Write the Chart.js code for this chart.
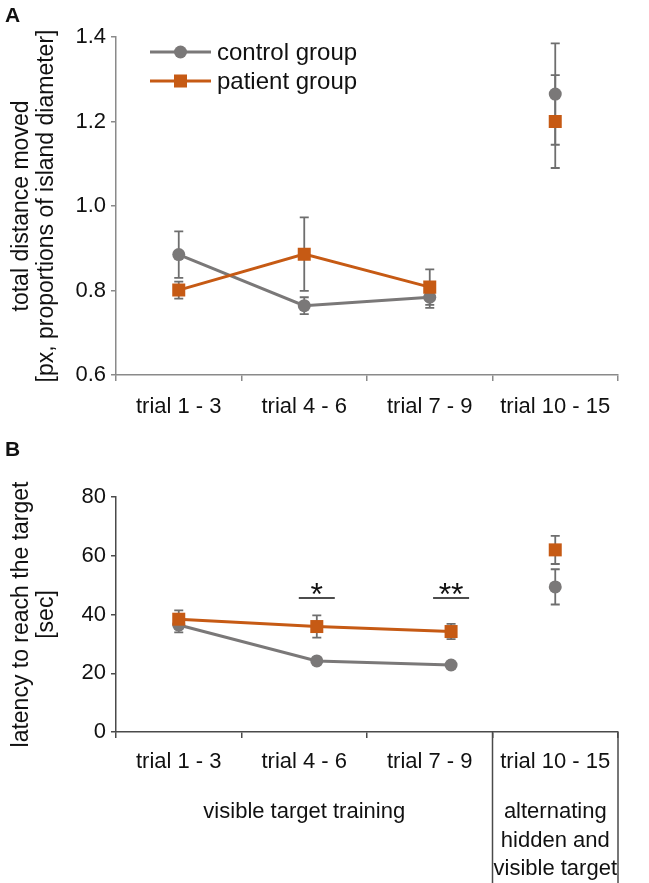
<!DOCTYPE html>
<html><head><meta charset="utf-8">
<script src="https://cdn.jsdelivr.net/npm/chart.js@4.4.1/dist/chart.umd.min.js"></script>
<style>
html,body{margin:0;padding:0;background:#fff;}
#wrap{position:relative;width:649px;height:883px;overflow:hidden;background:#fff;}
canvas{position:absolute;left:0;}
#cA{top:0;}
#cB{top:430px;}
.pl{position:absolute;left:5px;font:bold 21px 'Liberation Sans',Arial,sans-serif;color:#111;line-height:1;}
</style></head><body>
<div id="wrap">
<canvas id="cA" width="649" height="430"></canvas>
<canvas id="cB" width="649" height="453"></canvas>
<div class="pl" style="top:4px">A</div>
<div class="pl" style="top:438px">B</div>
</div>
<script>
// ---------- data ----------
const categories = ['trial 1 - 3', 'trial 4 - 6', 'trial 7 - 9', 'trial 10 - 15'];
const seriesNames = ['control group', 'patient group'];

const distControl    = [0.885, 0.764, 0.784, 1.265];
const distControlErr = [0.055, 0.020, 0.025, 0.120];
const distPatient    = [0.801, 0.886, 0.808, 1.200];
const distPatientErr = [0.020, 0.087, 0.042, 0.110];
const distTicks = [0.6, 0.8, 1.0, 1.2, 1.4];

// panel B: points sit at these positions along the category axis (0 = trial 1 - 3)
const latX          = [0, 1.1, 2.17, 3.0];
const latControl    = [36.4, 24.2, 22.8, 49.4];
const latControlErr = [2.5, 1.0, 1.0, 6.0];
const latPatient    = [38.4, 35.9, 34.2, 62.0];
const latPatientErr = [3.0, 3.8, 2.6, 4.8];
const latTicks = [0, 20, 40, 60, 80];

const sigCategories = ['trial 4 - 6', 'trial 7 - 9'];
const sigMarks = ['*', '**'];
const phaseLabels = ['visible target training', ['alternating', 'hidden and', 'visible target']];
const phaseSpans = [[0, 2], [3, 3]];

// ---------- styles ----------
const FONT = "'Liberation Sans', Arial, Helvetica, sans-serif";
const GRAY = '#7a7878';
const ORANGE = '#c65a14';
const ERR = '#6e6e6e';
const TXT = '#111111';
const TICK_SIZE = 22;

Chart.defaults.font.family = FONT;
Chart.defaults.font.size = TICK_SIZE;
Chart.defaults.color = TXT;

const noLink = (ctx) => ctx.p1DataIndex === 3 ? 'rgba(0,0,0,0)' : undefined;

function makeDatasets(ctrl, ctrlErr, pat, patErr, xs) {
  const pts = (arr) => xs ? arr.map((v, i) => ({ x: xs[i], y: v })) : arr;
  return [
    { label: seriesNames[0], data: pts(ctrl), errors: ctrlErr, order: 1,
      borderColor: GRAY, backgroundColor: GRAY, pointBackgroundColor: GRAY, pointBorderColor: GRAY,
      borderWidth: 3, pointStyle: 'circle', pointRadius: 6.5, pointBorderWidth: 0,
      segment: { borderColor: noLink } },
    { label: seriesNames[1], data: pts(pat), errors: patErr, order: 0,
      borderColor: ORANGE, backgroundColor: ORANGE, pointBackgroundColor: ORANGE, pointBorderColor: ORANGE,
      borderWidth: 3, pointStyle: 'rect', pointRadius: 9.2, pointBorderWidth: 0,
      segment: { borderColor: noLink } }
  ];
}

const errorBars = {
  id: 'errorBars',
  beforeDatasetsDraw(chart, args, o) {
    const ctx = chart.ctx, ys = chart.scales.y;
    ctx.save();
    ctx.strokeStyle = o.color; ctx.lineWidth = o.width;
    chart.data.datasets.forEach((ds, di) => {
      const meta = chart.getDatasetMeta(di);
      ds.data.forEach((d, i) => {
        const v = (typeof d === 'object') ? d.y : d;
        const e = ds.errors[i];
        const px = meta.data[i].x;
        const t = ys.getPixelForValue(v + e), b = ys.getPixelForValue(v - e);
        ctx.beginPath();
        ctx.moveTo(px, t); ctx.lineTo(px, b);
        ctx.moveTo(px - o.cap, t); ctx.lineTo(px + o.cap, t);
        ctx.moveTo(px - o.cap, b); ctx.lineTo(px + o.cap, b);
        ctx.stroke();
      });
    });
    ctx.restore();
  }
};

const lineLegend = {
  id: 'lineLegend',
  afterDraw(chart, args, o) {
    if (!o.show) return;
    const ctx = chart.ctx;
    chart.data.datasets.forEach((ds, i) => {
      const y = o.y + i * o.gap;
      ctx.save();
      ctx.strokeStyle = ds.borderColor; ctx.lineWidth = ds.borderWidth;
      ctx.beginPath(); ctx.moveTo(o.x, y); ctx.lineTo(o.x + o.len, y); ctx.stroke();
      const cx = o.x + o.len / 2;
      ctx.fillStyle = ds.pointBackgroundColor;
      if (ds.pointStyle === 'rect') {
        const s = ds.pointRadius / Math.SQRT2;
        ctx.fillRect(cx - s, y - s, 2 * s, 2 * s);
      } else {
        ctx.beginPath(); ctx.arc(cx, y, ds.pointRadius, 0, Math.PI * 2); ctx.fill();
      }
      ctx.fillStyle = TXT;
      ctx.font = o.fontSize + 'px ' + FONT;
      ctx.textBaseline = 'middle'; ctx.textAlign = 'left';
      ctx.fillText(ds.label, o.x + o.len + o.textGap, y + 1);
      ctx.restore();
    });
  }
};

const sigPlugin = {
  id: 'sigMarks',
  afterDatasetsDraw(chart, args, o) {
    if (!o.show) return;
    const ctx = chart.ctx, ys = chart.scales.y;
    const meta = chart.getDatasetMeta(1);
    ctx.save();
    sigCategories.forEach((c, i) => {
      const px = meta.data[categories.indexOf(c)].x;
      const py = ys.getPixelForValue(o.level);
      ctx.strokeStyle = TXT; ctx.lineWidth = 1.5;
      ctx.beginPath(); ctx.moveTo(px - o.half, py); ctx.lineTo(px + o.half, py); ctx.stroke();
      ctx.fillStyle = TXT; ctx.font = o.fontSize + 'px ' + FONT;
      ctx.textAlign = 'center'; ctx.textBaseline = 'alphabetic';
      ctx.fillText(sigMarks[i], px, py + o.textDy);
    });
    ctx.restore();
  }
};

const phasePlugin = {
  id: 'phases',
  afterDraw(chart, args, o) {
    if (!o.show) return;
    const ctx = chart.ctx, xs = chart.scales.x, area = chart.chartArea;
    const half = (xs.getPixelForValue(1) - xs.getPixelForValue(0)) / 2;
    ctx.save();
    ctx.fillStyle = TXT; ctx.font = o.fontSize + 'px ' + FONT;
    ctx.textAlign = 'center'; ctx.textBaseline = 'middle';
    ctx.strokeStyle = o.lineColor; ctx.lineWidth = 1.5;
    phaseSpans.forEach((sp, i) => {
      const l = xs.getPixelForValue(sp[0]) - half, r = xs.getPixelForValue(sp[1]) + half;
      const cx = (l + r) / 2;
      const lines = Array.isArray(phaseLabels[i]) ? phaseLabels[i] : [phaseLabels[i]];
      lines.forEach((t, k) => ctx.fillText(t, cx, area.bottom + o.offset + k * o.lh));
      if (i > 0) {
        [l, r].forEach(xx => {
          ctx.beginPath(); ctx.moveTo(xx, area.bottom); ctx.lineTo(xx, chart.height); ctx.stroke();
        });
      }
    });
    ctx.restore();
  }
};

function yScale(cfg) {
  return {
    min: cfg.ticks[0], max: cfg.ticks[cfg.ticks.length - 1],
    afterBuildTicks: (s) => { s.ticks = cfg.ticks.map(v => ({ value: v })); },
    grid: { display: true, drawOnChartArea: false, drawTicks: true, tickLength: 5, color: cfg.axisColor, lineWidth: 1.5 },
    border: { display: true, color: cfg.axisColor, width: 1.5 },
    ticks: { padding: 5, color: TXT, font: { size: TICK_SIZE }, callback: cfg.fmt },
    title: { display: true, text: cfg.title, color: TXT, font: { size: 23, lineHeight: 1.1 }, padding: { top: 9, bottom: 0 } },
    afterFit: (s) => { s.width = 116; }
  };
}

function basePlugins(cfg) {
  return {
    legend: { display: false }, tooltip: { enabled: false },
    errorBars: { color: ERR, width: 1.8, cap: 4.5 },
    lineLegend: cfg.legend, sigMarks: cfg.sig, phases: cfg.phases
  };
}

// ---------- panel A ----------
const cfgA = {
  axisColor: '#8a8a8a', ticks: distTicks, fmt: (v) => Number(v).toFixed(1),
  title: ['total distance moved', '[px, proportions of island diameter]'],
  legend: { show: true, x: 150, len: 61, y: 52, gap: 29, textGap: 6, fontSize: 24 },
  sig: { show: false }, phases: { show: false }
};
new Chart(document.getElementById('cA'), {
  type: 'line',
  data: { labels: categories, datasets: makeDatasets(distControl, distControlErr, distPatient, distPatientErr) },
  options: {
    responsive: false, animation: false, devicePixelRatio: 1,
    layout: { padding: { left: 0, right: 31, top: 37, bottom: 0 } },
    plugins: basePlugins(cfgA),
    scales: {
      x: {
        type: 'category', offset: true,
        grid: { display: true, drawOnChartArea: false, drawTicks: true, tickLength: 6, color: cfgA.axisColor, lineWidth: 1.5, offset: true },
        border: { display: true, color: cfgA.axisColor, width: 1.5 },
        ticks: { padding: 13, color: TXT, font: { size: TICK_SIZE }, maxRotation: 0, autoSkip: false },
        afterFit: (s) => { s.height = 55; }
      },
      y: yScale(cfgA)
    }
  },
  plugins: [errorBars, lineLegend, sigPlugin, phasePlugin]
});

// ---------- panel B ----------
const cfgB = {
  axisColor: '#4a4a4a', ticks: latTicks, fmt: (v) => String(v),
  title: ['latency to reach the target', '[sec]'],
  legend: { show: false },
  sig: { show: true, level: 45.6, half: 18, fontSize: 32, textDy: 7 },
  phases: { show: true, offset: 80, lh: 28.5, fontSize: TICK_SIZE, lineColor: '#4a4a4a' }
};
const catTicks = [];
categories.forEach((c, i) => { catTicks.push(i - 0.5, i); });
catTicks.push(categories.length - 0.5);

new Chart(document.getElementById('cB'), {
  type: 'line',
  data: { datasets: makeDatasets(latControl, latControlErr, latPatient, latPatientErr, latX) },
  options: {
    responsive: false, animation: false, devicePixelRatio: 1,
    layout: { padding: { left: 0, right: 31, top: 67, bottom: 0 } },
    plugins: basePlugins(cfgB),
    scales: {
      x: {
        type: 'linear', min: -0.5, max: categories.length - 0.5,
        afterBuildTicks: (s) => { s.ticks = catTicks.map(v => ({ value: v })); },
        grid: { display: true, drawOnChartArea: false, drawTicks: true, tickLength: 6, lineWidth: 1.5,
                color: cfgB.axisColor,
                tickColor: (ctx) => (ctx.tick && Number.isInteger(ctx.tick.value)) ? 'rgba(0,0,0,0)' : cfgB.axisColor },
        border: { display: true, color: cfgB.axisColor, width: 1.5 },
        ticks: { padding: 11, color: TXT, font: { size: TICK_SIZE }, maxRotation: 0, autoSkip: false,
                 callback: (v) => Number.isInteger(v) ? categories[v] : '' },
        afterFit: (s) => { s.height = 151; }
      },
      y: yScale(cfgB)
    }
  },
  plugins: [errorBars, lineLegend, sigPlugin, phasePlugin]
});
</script>
</body></html>
